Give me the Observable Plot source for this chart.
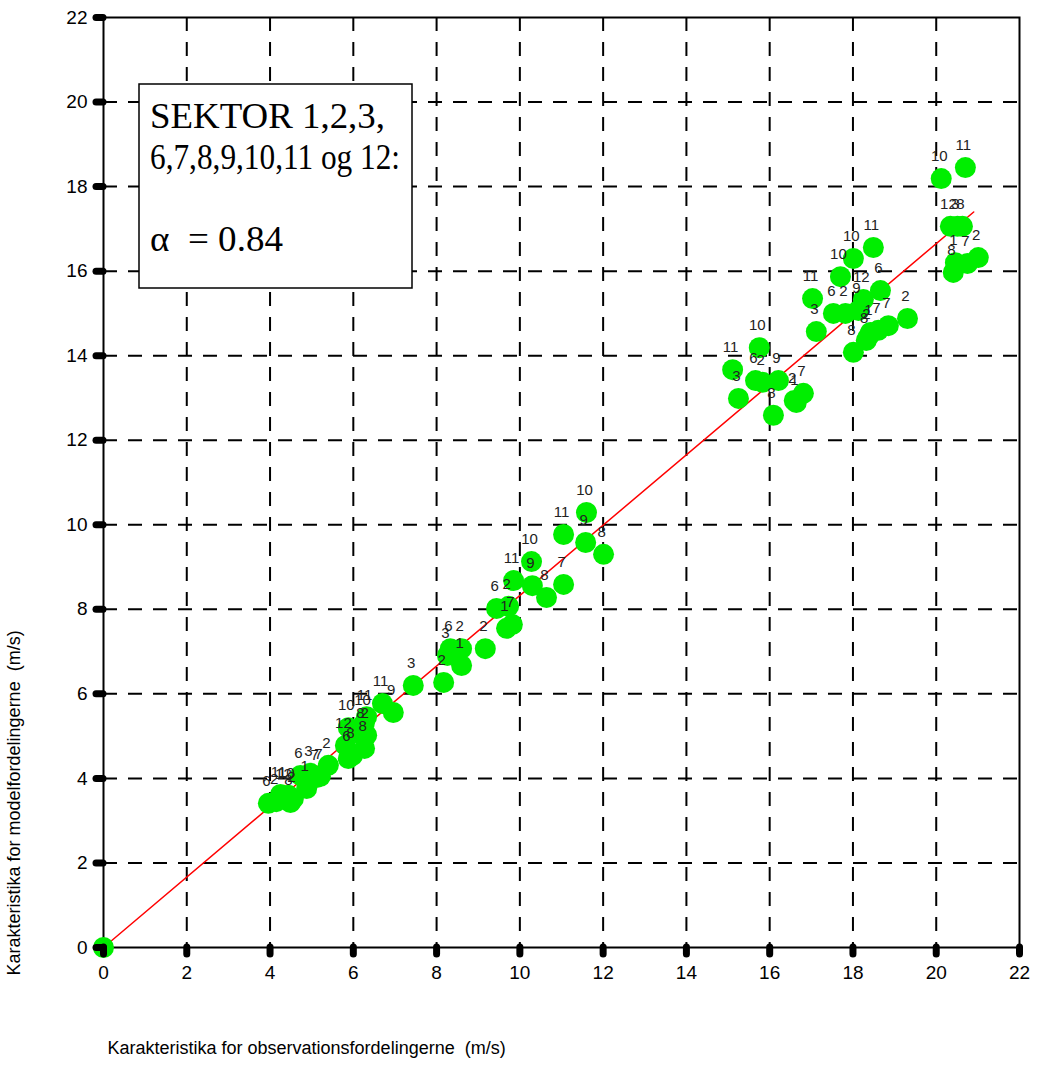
<!DOCTYPE html>
<html><head><meta charset="utf-8">
<script src="https://cdn.jsdelivr.net/npm/d3@7"></script>
<script src="https://cdn.jsdelivr.net/npm/@observablehq/plot@0.6"></script>
<style>body{margin:0;background:#fff}</style>
</head><body><div id="chart"></div>
<script>
// sector labels, observed characteristic (x), model characteristic (y)
const sectors = ["",
  "6","2","11","10","12","2","8","1","6","3","7","7","2",
  "10","11","10","8","2","12","6","8","8","11","9","3",
  "2","6","3","2","1","2","6","2","1","7","11","10","9","8","7","11","10","9","8",
  "11","10","3","6","2","9","8","2","1","7",
  "11","10","10","11","3","6","2","9","12","6","8","8","2","1","7","7","2",
  "10","11","12","3","8","8","1","7","2"];
const obsX = [0,
  3.96,4.15,4.25,4.44,4.37,4.56,4.49,4.88,4.73,4.97,5.12,5.21,5.40,
  5.88,6.32,6.27,6.22,6.32,5.81,5.88,5.98,6.27,6.70,6.96,7.44,
  8.17,8.33,8.26,8.60,8.60,9.17,9.44,9.73,9.68,9.82,9.85,10.28,10.30,10.64,11.05,11.05,11.60,11.58,12.01,
  15.11,15.75,15.25,15.66,15.83,16.21,16.09,16.59,16.64,16.81,
  18.49,18.01,17.70,17.03,17.12,17.53,17.82,18.13,18.25,18.66,18.01,18.32,18.37,18.42,18.61,18.85,19.31,
  20.12,20.70,20.34,20.51,20.63,20.41,20.46,20.75,21.01];
const modelY = [0,
  3.41,3.45,3.62,3.60,3.57,3.52,3.43,3.76,4.07,4.12,4.02,4.05,4.31,
  5.20,5.46,5.32,5.02,5.02,4.78,4.47,4.54,4.71,5.77,5.56,6.20,
  6.27,7.07,6.91,7.07,6.67,7.07,8.02,8.07,7.55,7.64,8.68,9.13,8.56,8.28,8.59,9.77,10.29,9.58,9.30,
  13.67,14.19,12.99,13.41,13.37,13.41,12.59,12.94,12.89,13.11,
  16.56,16.30,15.87,15.35,14.57,15.00,15.00,15.07,15.33,15.54,14.08,14.36,14.45,14.55,14.60,14.71,14.88,
  18.19,18.45,17.06,17.06,17.06,15.97,16.20,16.18,16.32];
const fitX = [0, 20.9];
const fitY = [0, 17.4];
const axisTicks = [0,2,4,6,8,10,12,14,16,18,20,22];
const gridTicks = [2,4,6,8,10,12,14,16,18,20];
const xLabel = "Karakteristika for observationsfordelingerne\u00a0 (m/s)";
const yLabel = "Karakteristika for modelfordelingerne\u00a0 (m/s)";
const boxLines = ["SEKTOR 1,2,3,", "6,7,8,9,10,11 og 12:", "", "\u03b1\u00a0 = 0.84"];

const points = obsX.map((x, i) => ({x, y: modelY[i], s: sectors[i]}));
const fit = fitX.map((x, i) => ({x, y: fitY[i]}));

const plot = Plot.plot({
  width: 1044, height: 1068,
  marginLeft: 103, marginRight: 25, marginTop: 17, marginBottom: 121,
  x: {domain: [0, 22]},
  y: {domain: [0, 22]},
  style: {fontFamily: "Arial, 'Liberation Sans', sans-serif", background: "#fff", color: "#000"},
  marks: [
    Plot.ruleX(gridTicks, {stroke: "#000", strokeWidth: 2, strokeDasharray: "14,11"}),
    Plot.ruleY(gridTicks, {stroke: "#000", strokeWidth: 2, strokeDasharray: "14,11"}),
    Plot.frame({stroke: "#000", strokeWidth: 2}),
    Plot.line(fit, {x: "x", y: "y", stroke: "#ff0000", strokeWidth: 1.5}),
    Plot.dot(points, {x: "x", y: "y", r: 10.5, fill: "#00ee00", stroke: "none"}),
    Plot.text(points, {x: "x", y: "y", text: "s", dy: -22, dx: -2, fontSize: 15, fill: "#222"}),
    Plot.axisX({ticks: axisTicks, tickSize: 7, strokeWidth: 7, strokeLinecap: "round", tickPadding: 11, fontSize: 19, label: null}),
    Plot.axisY({ticks: axisTicks, tickSize: 7, strokeWidth: 7, strokeLinecap: "round", tickPadding: 9, fontSize: 19, label: null}),
    Plot.text([xLabel], {frameAnchor: "bottom-left", text: d => d, textAnchor: "start", dx: 4, dy: 106, fontSize: 18}),
    Plot.text([yLabel], {frameAnchor: "bottom-left", text: d => d, textAnchor: "start", rotate: -90, dx: -84, dy: 28, fontSize: 18})
  ]
});

// annotation box
const svg = d3.select(plot);
const g = svg.append("g").attr("text-anchor", "start");
g.append("rect").attr("x", 139).attr("y", 84).attr("width", 273).attr("height", 204)
  .attr("fill", "#fff").attr("stroke", "#000").attr("stroke-width", 1.5);
const baselines = [128, 169, 209, 251];
const lineWidths = [235, 250, 0, 133];
boxLines.forEach((t, i) => {
  const el = g.append("text").attr("x", 150).attr("y", baselines[i])
    .attr("text-anchor", "start")
    .attr("font-family", "'Liberation Serif', 'Times New Roman', serif")
    .attr("font-size", 36).attr("fill", "#000").text(t);
  if (lineWidths[i]) el.attr("textLength", lineWidths[i]).attr("lengthAdjust", "spacingAndGlyphs");
});

document.getElementById("chart").appendChild(plot);
</script>
</body></html>
